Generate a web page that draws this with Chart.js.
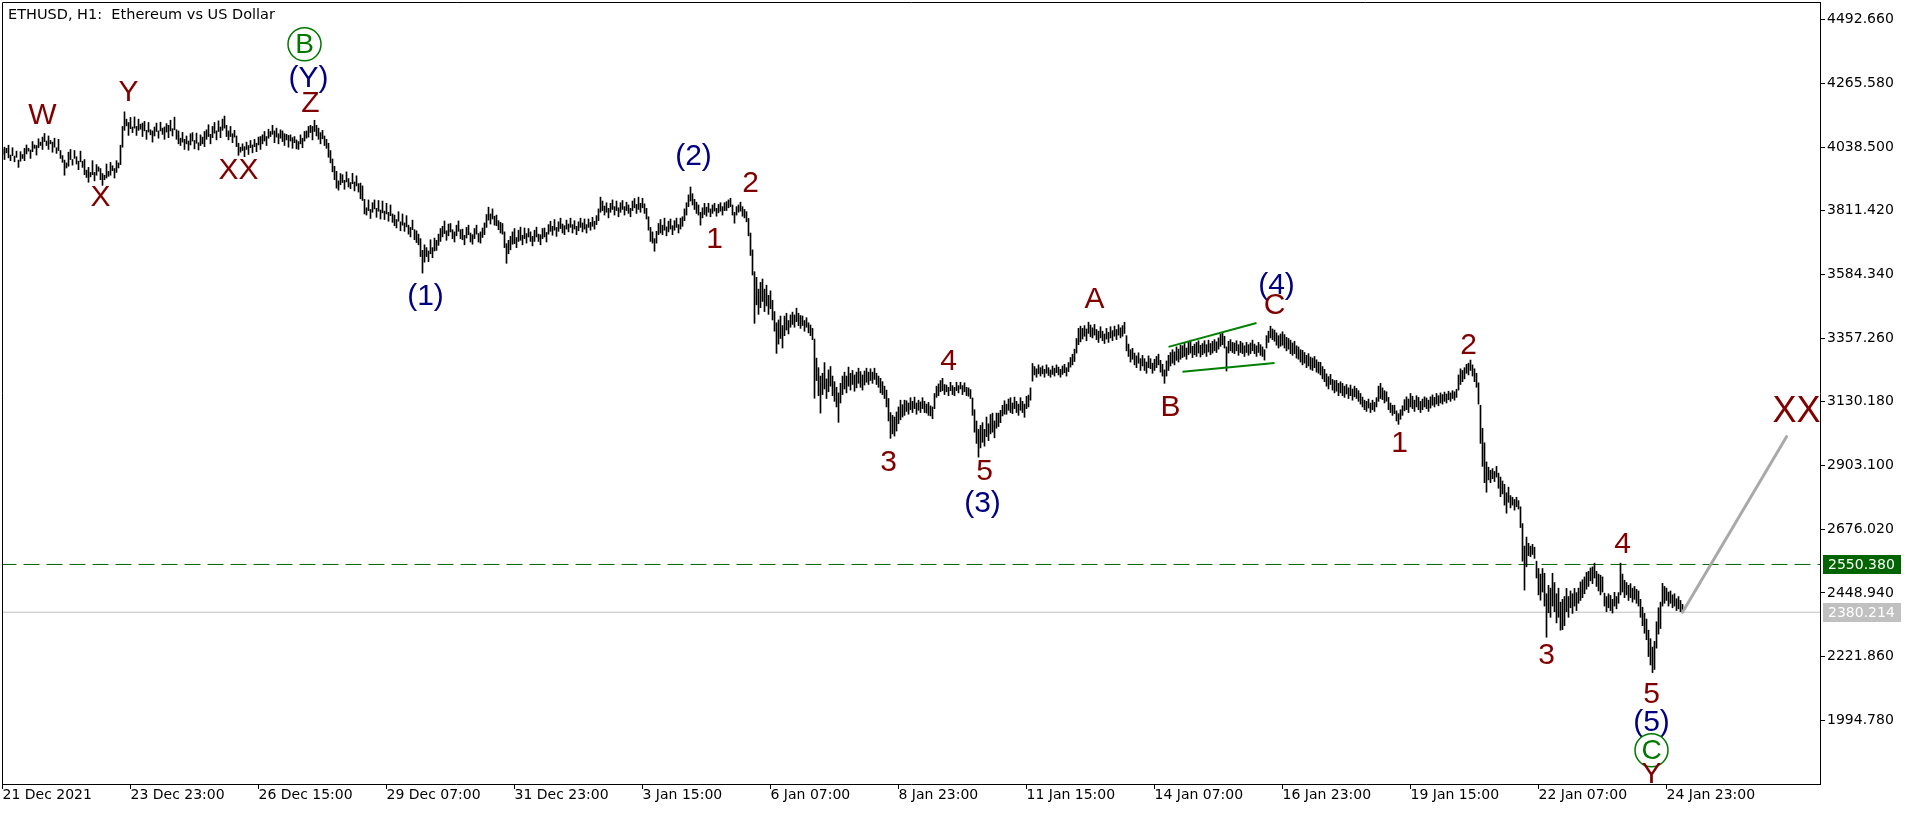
<!DOCTYPE html>
<html>
<head>
<meta charset="utf-8">
<title>ETHUSD H1</title>
<script src="https://cdn.jsdelivr.net/npm/chart.js@4.4.1/dist/chart.umd.min.js"></script>
<style>
  html, body { margin: 0; padding: 0; background: #fff; overflow: hidden; }
  canvas { display: block; }
</style>
</head>
<body>
<canvas id="myChart" width="1916" height="813"></canvas>
<script>
// price axis labels
const priceTicks = [1994.780, 2221.860, 2448.940, 2676.020, 2903.100, 3130.180,
  3357.260, 3584.340, 3811.420, 4038.500, 4265.580, 4492.660];

// time axis: one label every 64 hourly bars
const timeLabels = ["21 Dec 2021", "23 Dec 23:00", "26 Dec 15:00", "29 Dec 07:00",
  "31 Dec 23:00", "3 Jan 15:00", "6 Jan 07:00", "8 Jan 23:00", "11 Jan 15:00",
  "14 Jan 07:00", "16 Jan 23:00", "19 Jan 15:00", "22 Jan 07:00", "24 Jan 23:00"];
const timeTickIndex = [0, 64, 128, 192, 256, 320, 384, 448, 512, 576, 640, 704, 768, 832];

const currentPrice = 2380.214;
const levelPrice = 2550.380;

// hourly bars [low, high], first bar = 21 Dec 07:00
const hourlyBars = [
  [4012,4030],[3994,4038],[4018,4034],[4000,4045],[3990,4010],[4008,4036],[3986,4006],[4002,4024],[3966,3992],[3988,4022],
  [3998,4012],[3990,4034],[4014,4046],[4024,4034],[3998,4028],[4022,4058],[4034,4046],[4010,4044],[4036,4068],[4044,4056],
  [4030,4074],[4058,4087],[4044,4060],[4030,4078],[4050,4062],[4020,4056],[4038,4070],[4016,4036],[4026,4066],[3998,4026],
  [3984,4008],[3938,3992],[3964,3982],[3970,4020],[3994,4030],[3974,3994],[3998,4026],[3978,4004],[3958,3988],[3986,4024],
  [3966,3988],[3940,3994],[3930,3956],[3913,3966],[3932,3948],[3940,3990],[3918,3948],[3938,3976],[3952,3968],[3922,3962],
  [3902,3944],[3922,3938],[3928,3978],[3934,3952],[3938,3984],[3954,3972],[3928,3962],[3948,3990],[3964,3982],[3976,4045],
  [4038,4112],[4098,4164],[4114,4138],[4080,4126],[4104,4144],[4090,4110],[4106,4146],[4080,4112],[4098,4138],[4102,4120],
  [4076,4124],[4096,4130],[4066,4098],[4092,4126],[4082,4100],[4056,4096],[4078,4110],[4094,4124],[4070,4096],[4096,4127],
  [4084,4106],[4066,4110],[4092,4122],[4072,4116],[4096,4134],[4078,4104],[4100,4145],[4066,4100],[4050,4096],[4044,4070],
  [4056,4091],[4030,4066],[4050,4078],[4027,4060],[4046,4086],[4060,4090],[4032,4062],[4052,4088],[4028,4054],[4044,4082],
  [4050,4074],[4040,4094],[4066,4100],[4076,4118],[4050,4084],[4072,4112],[4088,4126],[4064,4096],[4094,4132],[4072,4110],
  [4098,4138],[4106,4149],[4076,4116],[4064,4096],[4076,4112],[4054,4086],[4074,4098],[4040,4078],[4009,4052],[4020,4038],
  [4026,4050],[4004,4040],[4030,4056],[4012,4044],[4036,4062],[4018,4046],[4040,4066],[4022,4052],[4046,4074],[4030,4076],
  [4050,4082],[4060,4094],[4044,4076],[4070,4102],[4076,4094],[4084,4116],[4054,4096],[4074,4106],[4050,4086],[4070,4100],
  [4058,4096],[4044,4086],[4064,4084],[4038,4080],[4060,4082],[4034,4072],[4054,4076],[4032,4064],[4030,4058],[4050,4082],
  [4036,4070],[4060,4094],[4070,4096],[4074,4112],[4090,4116],[4064,4112],[4094,4134],[4078,4116],[4066,4106],[4050,4090],
  [4068,4098],[4044,4078],[4034,4066],[4002,4052],[3982,4026],[3950,3996],[3922,3970],[3892,3952],[3885,3918],[3904,3944],
  [3912,3940],[3888,3920],[3914,3950],[3896,3926],[3890,3912],[3908,3945],[3882,3914],[3900,3936],[3878,3908],[3854,3910],
  [3848,3900],[3800,3852],[3796,3822],[3812,3850],[3784,3816],[3806,3840],[3818,3850],[3788,3820],[3810,3848],[3782,3814],
  [3804,3846],[3780,3810],[3800,3838],[3774,3806],[3794,3832],[3770,3800],[3758,3796],[3750,3780],[3774,3808],[3740,3772],
  [3760,3800],[3738,3768],[3754,3794],[3728,3760],[3718,3752],[3744,3778],[3708,3744],[3698,3740],[3690,3728],[3648,3712],
  [3589,3670],[3628,3690],[3648,3680],[3630,3668],[3658,3708],[3644,3680],[3668,3714],[3670,3706],[3688,3728],[3702,3748],
  [3718,3756],[3730,3775],[3706,3740],[3722,3764],[3736,3766],[3712,3744],[3700,3736],[3722,3760],[3738,3775],[3712,3744],
  [3708,3746],[3690,3724],[3714,3752],[3726,3760],[3700,3732],[3692,3726],[3712,3748],[3728,3760],[3700,3730],[3696,3736],
  [3716,3750],[3726,3768],[3752,3798],[3778,3824],[3764,3800],[3782,3818],[3760,3792],[3758,3796],[3744,3776],[3732,3770],
  [3728,3766],[3680,3736],[3624,3694],[3658,3706],[3672,3720],[3692,3736],[3694,3748],[3680,3716],[3702,3742],[3706,3753],
  [3690,3724],[3712,3750],[3696,3730],[3718,3748],[3702,3736],[3686,3720],[3702,3742],[3718,3753],[3702,3728],[3690,3726],
  [3712,3748],[3718,3750],[3700,3734],[3728,3762],[3738,3774],[3724,3756],[3742,3780],[3720,3752],[3738,3772],[3748,3785],
  [3732,3764],[3726,3758],[3746,3778],[3736,3764],[3752,3785],[3732,3762],[3746,3776],[3726,3756],[3740,3772],[3752,3785],
  [3736,3768],[3746,3782],[3732,3762],[3752,3782],[3742,3770],[3756,3788],[3746,3774],[3762,3794],[3776,3818],[3806,3860],
  [3812,3846],[3796,3828],[3806,3840],[3786,3820],[3806,3838],[3816,3850],[3796,3826],[3812,3846],[3790,3822],[3806,3840],
  [3816,3848],[3796,3826],[3812,3842],[3802,3832],[3790,3820],[3812,3846],[3822,3855],[3802,3834],[3816,3860],[3806,3838],
  [3822,3856],[3802,3836],[3782,3820],[3742,3790],[3702,3752],[3696,3736],[3667,3712],[3696,3738],[3726,3766],[3732,3780],
  [3726,3760],[3742,3785],[3722,3754],[3736,3774],[3746,3782],[3726,3758],[3742,3776],[3752,3785],[3732,3762],[3746,3785],
  [3756,3790],[3776,3818],[3796,3840],[3826,3868],[3846,3896],[3832,3872],[3816,3852],[3802,3842],[3796,3832],[3760,3806],
  [3786,3822],[3798,3838],[3792,3824],[3806,3838],[3790,3818],[3802,3832],[3810,3838],[3792,3820],[3804,3834],[3810,3840],
  [3796,3826],[3812,3840],[3812,3844],[3822,3850],[3826,3856],[3796,3832],[3767,3806],[3796,3826],[3806,3832],[3810,3842],
  [3792,3826],[3786,3816],[3772,3808],[3722,3784],[3652,3732],[3582,3672],[3410,3594],[3476,3574],[3442,3532],[3466,3556],
  [3488,3568],[3452,3532],[3472,3546],[3442,3510],[3462,3526],[3422,3492],[3382,3452],[3303,3412],[3336,3422],[3356,3436],
  [3322,3402],[3366,3436],[3386,3446],[3372,3420],[3396,3440],[3406,3450],[3396,3440],[3416,3464],[3402,3446],[3392,3438],
  [3402,3436],[3382,3420],[3396,3430],[3376,3412],[3366,3404],[3352,3392],[3143,3354],[3206,3286],[3152,3252],[3090,3222],
  [3156,3232],[3176,3270],[3142,3212],[3166,3244],[3186,3256],[3152,3222],[3132,3202],[3112,3182],[3057,3162],[3126,3196],
  [3156,3222],[3176,3236],[3162,3222],[3186,3254],[3172,3232],[3192,3242],[3168,3226],[3180,3236],[3196,3250],[3182,3238],
  [3172,3226],[3190,3240],[3200,3250],[3192,3236],[3206,3248],[3196,3236],[3210,3250],[3192,3232],[3182,3222],[3162,3214],
  [3156,3202],[3142,3186],[3112,3172],[3062,3142],[3000,3092],[3016,3082],[3008,3076],[3026,3094],[3052,3112],[3066,3136],
  [3076,3120],[3082,3136],[3096,3134],[3086,3126],[3102,3145],[3092,3132],[3106,3147],[3086,3126],[3100,3136],[3092,3130],
  [3106,3145],[3092,3132],[3090,3122],[3082,3128],[3080,3116],[3070,3112],[3106,3160],[3146,3186],[3152,3194],[3166,3206],
  [3170,3214],[3156,3192],[3166,3190],[3152,3182],[3170,3200],[3156,3188],[3152,3182],[3170,3200],[3162,3188],[3176,3200],
  [3156,3188],[3166,3198],[3152,3182],[3150,3180],[3142,3174],[3082,3144],[3022,3102],[2982,3062],[2933,3032],[2966,3046],
  [2986,3056],[2972,3032],[3006,3076],[2992,3052],[3016,3085],[3022,3090],[3002,3062],[3036,3090],[3042,3090],[3056,3100],
  [3080,3118],[3086,3134],[3086,3122],[3100,3140],[3092,3145],[3088,3126],[3106,3147],[3092,3132],[3082,3122],[3100,3145],
  [3092,3132],[3075,3122],[3106,3150],[3112,3154],[3136,3180],[3204,3267],[3226,3256],[3218,3248],[3230,3262],[3222,3252],
  [3230,3258],[3218,3246],[3232,3262],[3224,3252],[3218,3244],[3228,3258],[3222,3250],[3234,3262],[3226,3254],[3218,3246],
  [3228,3258],[3234,3264],[3222,3252],[3238,3270],[3254,3288],[3262,3300],[3274,3318],[3304,3356],[3334,3392],[3344,3400],
  [3354,3392],[3364,3402],[3348,3390],[3374,3414],[3362,3404],[3358,3394],[3368,3406],[3352,3388],[3342,3382],[3358,3398],
  [3348,3382],[3338,3372],[3354,3392],[3342,3378],[3358,3398],[3348,3384],[3364,3400],[3352,3388],[3368,3405],[3358,3394],
  [3364,3402],[3374,3414],[3312,3366],[3292,3336],[3272,3316],[3282,3321],[3262,3304],[3252,3294],[3268,3305],[3242,3284],
  [3258,3296],[3242,3284],[3232,3272],[3252,3294],[3248,3284],[3232,3268],[3242,3282],[3252,3292],[3262,3300],[3236,3278],
  [3222,3264],[3196,3244],[3222,3276],[3242,3296],[3258,3306],[3268,3316],[3262,3308],[3278,3326],[3272,3318],[3282,3332],
  [3288,3330],[3292,3340],[3282,3322],[3298,3342],[3304,3350],[3288,3328],[3298,3336],[3292,3342],[3304,3348],[3290,3332],
  [3298,3338],[3304,3348],[3292,3334],[3308,3350],[3298,3338],[3304,3346],[3312,3352],[3306,3344],[3318,3358],[3328,3372],
  [3334,3378],[3322,3364],[3240,3326],[3304,3346],[3312,3352],[3306,3342],[3302,3340],[3312,3348],[3296,3334],[3306,3346],
  [3302,3340],[3292,3330],[3306,3342],[3296,3334],[3302,3340],[3312,3350],[3302,3336],[3292,3330],[3306,3342],[3296,3334],
  [3292,3326],[3279,3316],[3322,3366],[3342,3382],[3358,3400],[3352,3390],[3346,3386],[3332,3376],[3322,3366],[3328,3372],
  [3332,3380],[3322,3370],[3312,3360],[3318,3356],[3302,3350],[3296,3340],[3302,3346],[3286,3330],[3282,3326],[3272,3316],
  [3262,3314],[3268,3306],[3252,3296],[3258,3302],[3246,3290],[3242,3286],[3252,3292],[3236,3280],[3232,3272],[3226,3271],
  [3212,3256],[3202,3246],[3186,3230],[3176,3220],[3192,3228],[3172,3210],[3162,3206],[3168,3207],[3152,3196],[3162,3202],
  [3152,3196],[3146,3186],[3158,3192],[3142,3180],[3152,3190],[3136,3176],[3148,3186],[3142,3178],[3132,3170],[3122,3160],
  [3112,3147],[3102,3136],[3096,3132],[3108,3140],[3092,3126],[3102,3136],[3096,3128],[3112,3145],[3132,3186],[3142,3196],
  [3138,3180],[3126,3170],[3132,3166],[3102,3146],[3092,3126],[3082,3118],[3088,3118],[3062,3098],[3050,3088],[3068,3102],
  [3082,3116],[3098,3138],[3102,3148],[3092,3140],[3112,3160],[3106,3150],[3096,3136],[3112,3152],[3102,3146],[3092,3132],
  [3102,3140],[3112,3148],[3106,3144],[3096,3136],[3108,3148],[3118,3155],[3112,3146],[3122,3160],[3116,3152],[3126,3162],
  [3122,3156],[3132,3165],[3126,3158],[3138,3168],[3132,3162],[3142,3170],[3136,3166],[3146,3175],[3172,3226],[3192,3248],
  [3202,3242],[3212,3252],[3232,3264],[3226,3268],[3242,3279],[3222,3262],[3202,3248],[3182,3232],[3122,3198],[2982,3118],
  [2900,3036],[2842,2984],[2808,2916],[2852,2897],[2842,2886],[2856,2892],[2846,2882],[2862,2900],[2822,2876],[2792,2862],
  [2802,2848],[2762,2836],[2733,2806],[2772,2826],[2752,2796],[2762,2790],[2744,2782],[2756,2790],[2748,2778],[2682,2756],
  [2562,2696],[2459,2616],[2542,2648],[2582,2626],[2578,2616],[2586,2622],[2572,2612],[2502,2562],[2442,2536],[2423,2516],
  [2452,2536],[2402,2519],[2291,2446],[2378,2476],[2362,2466],[2402,2519],[2382,2486],[2342,2446],[2362,2466],[2316,2416],
  [2318,2426],[2332,2436],[2382,2465],[2362,2436],[2396,2456],[2376,2446],[2402,2465],[2386,2450],[2412,2466],[2422,2488],
  [2432,2496],[2446,2506],[2462,2522],[2472,2526],[2492,2538],[2482,2542],[2502,2555],[2472,2526],[2456,2516],[2442,2512],
  [2452,2506],[2402,2448],[2382,2436],[2396,2446],[2386,2440],[2377,2426],[2402,2451],[2392,2436],[2412,2450],[2442,2555],
  [2452,2516],[2432,2494],[2442,2486],[2422,2476],[2432,2482],[2416,2466],[2426,2472],[2412,2462],[2402,2456],[2362,2426],
  [2332,2398],[2305,2376],[2282,2356],[2222,2316],[2192,2286],[2165,2256],[2176,2276],[2252,2346],[2302,2396],[2322,2416],
  [2402,2483],[2412,2472],[2422,2466],[2402,2452],[2412,2456],[2396,2442],[2402,2446],[2386,2428],[2392,2436],[2382,2422],
  [2378,2408]
];

// drawn lines: [bar index, price]
const triangleUpper = [[583, 3326], [627, 3411]];
const triangleLower = [[590, 3237], [636, 3269]];
const projection = [[840, 2380.214], [892, 3006]];

// wave marks: text, bar index, price, degree
const waveLabels = [
  ["W", 20, 4155, "minor"], ["X", 49, 3863, "minor"], ["Y", 63, 4234, "minor"],
  ["XX", 118, 3959, "minor"], ["B", 151, 4405, "major"], ["(Y)", 153, 4284, "inter"],
  ["Z", 154, 4198, "minor"], ["(1)", 211.5, 3510, "inter"], ["(2)", 345.5, 4009, "inter"],
  ["1", 356, 3710, "minor"], ["2", 374, 3910, "minor"], ["3", 443, 2915, "minor"],
  ["4", 473, 3278, "minor"], ["5", 491, 2886, "minor"], ["(3)", 490, 2769, "inter"],
  ["A", 546, 3496, "minor"], ["B", 584, 3111, "minor"], ["(4)", 637, 3549, "inter"],
  ["C", 636, 3475, "minor"], ["1", 698.5, 2986, "minor"], ["2", 733, 3332, "minor"],
  ["3", 772, 2227, "minor"], ["4", 810, 2625, "minor"], ["5", 824.5, 2088, "minor"],
  ["(5)", 824.5, 1988, "inter"], ["C", 824.5, 1888, "major"], ["Y", 824.5, 1806, "minor"],
  ["XX", 897, 3097, "big"]
];

const labelStyles = {
  minor: { color: "#800000", size: 30 },
  inter: { color: "#000080", size: 30 },
  major: { color: "#007800", size: 28, circle: true },
  big: { color: "#800000", size: 36 }
};

const axisFont = { family: "'DejaVu Sans', Verdana, sans-serif", size: 14 };

// wave labels, frame, title and price tags
const wavePlugin = {
  id: "waveLabels",
  afterDatasetsDraw(chart) {
    const { ctx, chartArea, scales } = chart;
    ctx.save();
    ctx.beginPath();
    ctx.rect(chartArea.left, chartArea.top, chartArea.right - chartArea.left, chartArea.bottom - chartArea.top);
    ctx.clip();
    ctx.textAlign = "center";
    ctx.textBaseline = "middle";
    waveLabels.forEach(function (w) {
      const st = labelStyles[w[3]];
      const px = scales.x.getPixelForValue(w[1]);
      const py = scales.y.getPixelForValue(w[2]);
      ctx.fillStyle = st.color;
      ctx.font = st.size + "px 'Liberation Sans', Arial, sans-serif";
      if (st.circle) {
        ctx.beginPath();
        ctx.arc(px, py, 16.5, 0, Math.PI * 2);
        ctx.strokeStyle = st.color;
        ctx.lineWidth = 1.5;
        ctx.stroke();
      }
      ctx.fillText(w[0], px, py + 1);
    });
    ctx.restore();
  },
  afterDraw(chart) {
    const { ctx, chartArea, scales } = chart;
    ctx.save();
    ctx.strokeStyle = "#000";
    ctx.lineWidth = 1;
    ctx.beginPath();
    ctx.moveTo(chartArea.left + 0.5, chartArea.bottom);
    ctx.lineTo(chartArea.left + 0.5, chartArea.top + 0.5);
    ctx.lineTo(chartArea.right, chartArea.top + 0.5);
    ctx.stroke();
    ctx.fillStyle = "#000";
    ctx.font = "14.5px 'DejaVu Sans', Verdana, sans-serif";
    ctx.textAlign = "left";
    ctx.textBaseline = "middle";
    ctx.fillText("ETHUSD, H1:  Ethereum vs US Dollar", 8, 15);
    ctx.font = "14px 'DejaVu Sans', Verdana, sans-serif";
    [[levelPrice, "#006400"], [currentPrice, "#c0c0c0"]].forEach(function (t) {
      const y = Math.round(scales.y.getPixelForValue(t[0]));
      ctx.fillStyle = t[1];
      ctx.fillRect(chartArea.right + 3, y - 9, 78, 19);
      ctx.fillStyle = "#fff";
      ctx.fillText(t[0].toFixed(3), chartArea.right + 8, y + 1);
    });
    ctx.restore();
  }
};

document.addEventListener("DOMContentLoaded", function () {
  var ctx = document.getElementById("myChart").getContext("2d");

  var data = {
    datasets: [
      {
        type: "bar",
        data: hourlyBars.map((b, i) => ({ x: i, y: b })),
        backgroundColor: "#000",
        borderWidth: 0,
        barThickness: 1,
        order: 0,
      },
      {
        type: "line",
        data: [{ x: -1, y: levelPrice }, { x: 910, y: levelPrice }],
        borderColor: "#006400",
        borderWidth: 1,
        borderDash: [16, 7],
        pointRadius: 0,
        order: 3,
      },
      {
        type: "line",
        data: [{ x: -1, y: currentPrice }, { x: 910, y: currentPrice }],
        borderColor: "#c0c0c0",
        borderWidth: 1,
        pointRadius: 0,
        order: 3,
      },
      {
        type: "line",
        data: triangleUpper.map((p) => ({ x: p[0], y: p[1] })),
        borderColor: "#008000",
        borderWidth: 2,
        pointRadius: 0,
        order: -1,
      },
      {
        type: "line",
        data: triangleLower.map((p) => ({ x: p[0], y: p[1] })),
        borderColor: "#008000",
        borderWidth: 2,
        pointRadius: 0,
        order: -1,
      },
      {
        type: "line",
        data: projection.map((p) => ({ x: p[0], y: p[1] })),
        borderColor: "#a9a9a9",
        borderWidth: 3,
        borderCapStyle: "round",
        pointRadius: 0,
        order: -1,
      },
    ],
  };

  var options = {
    responsive: false,
    maintainAspectRatio: false,
    animation: false,
    layout: { padding: { left: 2, top: 2, right: 0, bottom: 0 } },
    plugins: { legend: { display: false }, tooltip: { enabled: false } },
    scales: {
      x: {
        type: "linear",
        min: -0.25,
        max: 908.75,
        offset: false,
        afterBuildTicks: (s) => { s.ticks = timeTickIndex.map((v) => ({ value: v })); },
        afterFit: (s) => { s.height = 29; s.paddingLeft = 0; s.paddingRight = 0; },
        ticks: {
          callback: (v) => timeLabels[timeTickIndex.indexOf(v)],
          align: "start",
          autoSkip: false,
          maxRotation: 0,
          minRotation: 0,
          padding: -2,
          color: "#000",
          font: axisFont,
        },
        grid: { offset: false, drawOnChartArea: false, drawTicks: true, tickLength: 5, color: "#000" },
        border: { display: true, color: "#000", width: 1 },
      },
      y: {
        position: "right",
        min: 1767.7,
        max: 4555.6,
        beginAtZero: false,
        afterBuildTicks: (s) => { s.ticks = priceTicks.map((v) => ({ value: v })); },
        afterFit: (s) => { s.width = 96; s.paddingTop = 0; s.paddingBottom = 0; },
        ticks: {
          callback: (v) => v.toFixed(3),
          padding: 2,
          color: "#000",
          font: axisFont,
        },
        grid: { drawOnChartArea: false, drawTicks: true, tickLength: 5, color: "#000" },
        border: { display: true, color: "#000", width: 1 },
      },
    },
  };

  var myChart = new Chart(ctx, {
    type: "bar",
    data: data,
    options: options,
    plugins: [wavePlugin],
  });
});
</script>
</body>
</html>
